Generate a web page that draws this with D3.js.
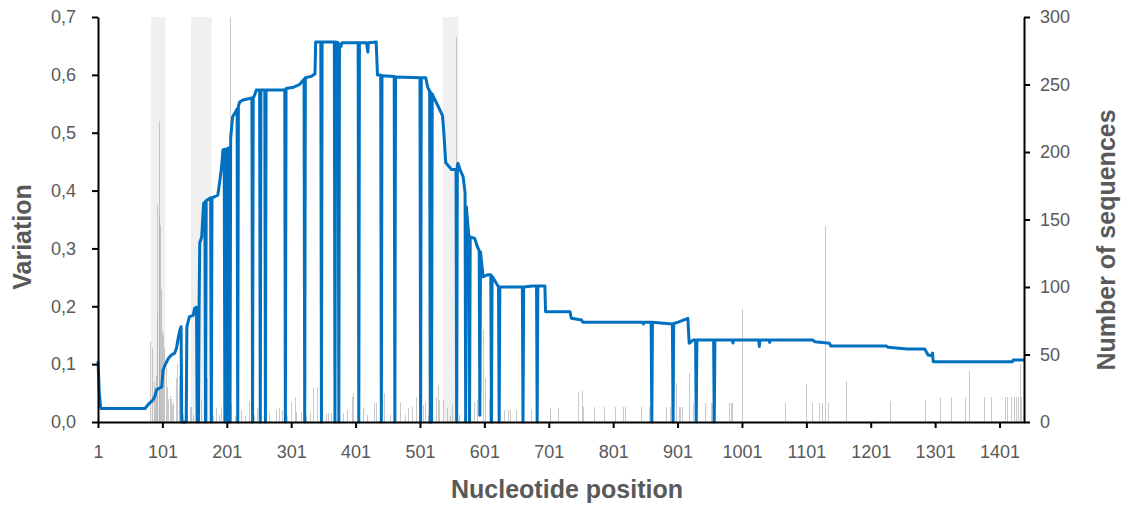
<!DOCTYPE html>
<html>
<head>
<meta charset="utf-8">
<script src="https://cdn.jsdelivr.net/npm/d3@7"></script>
<style>
  body { margin: 0; background: #fff; }
  svg { display: block; }
</style>
</head>
<body>
<div id="chart"></div>
<script>
// Axis ranges and tick labels
const positionDomain = [1, 1439];
const positionTicks = [1, 101, 201, 301, 401, 501, 601, 701, 801, 901, 1001, 1101, 1201, 1301, 1401];
const variationTicks = [0, 0.1, 0.2, 0.3, 0.4, 0.5, 0.6, 0.7];
const sequenceTicks = [0, 50, 100, 150, 200, 250, 300];

// Position ranges where variation goes beyond the axis (drawn as pale full-height columns)
const offScaleRanges = [[84, 105], [146, 177], [537, 560]];

// Variation per nucleotide position [position, variation] (positions not listed are ~0)
const variation = [
  [2, 0.46], [83, 0.14], [85, 0.128], [88, 0.07], [90, 0.06], [92, 0.08], [93, 0.18],
  [94, 0.375], [96, 0.52], [97, 0.358], [98, 0.34], [100, 0.23], [101, 0.155], [103, 0.15],
  [105, 0.128], [107, 0.093], [109, 0.06], [111, 0.04], [113, 0.045], [115, 0.04], [117, 0.03],
  [119, 0.035], [123, 0.076], [125, 0.1], [127, 0.08], [128, 0.06], [134, 0.012], [140, 0.015],
  [144, 0.026], [146, 0.026], [150, 0.012], [154, 0.047], [159, 0.038], [162, 0.038], [167, 0.047],
  [171, 0.076], [175, 0.05], [180, 0.01], [185, 0.024], [189, 0.012], [193, 0.026], [206, 1.0],
  [209, 0.03], [215, 0.01], [224, 0.021], [230, 0.01], [237, 0.037], [244, 0.012], [248, 0.024],
  [253, 0.037], [260, 0.01], [268, 0.016], [278, 0.021], [283, 0.024], [288, 0.021], [295, 0.01],
  [301, 0.035], [307, 0.044], [310, 0.018], [317, 0.018], [325, 0.01], [331, 0.018], [335, 0.058],
  [342, 0.061], [350, 0.01], [356, 0.016], [359, 0.016], [364, 0.016], [370, 0.01], [374, 0.024],
  [383, 0.016], [388, 0.021], [396, 0.044], [397, 0.05], [405, 0.01], [413, 0.024], [420, 0.012],
  [431, 0.032], [434, 0.032], [440, 0.01], [446, 0.05], [455, 0.012], [462, 0.01], [471, 0.035],
  [478, 0.012], [483, 0.024], [490, 0.026], [496, 0.044], [501, 0.047], [506, 0.03], [509, 0.035],
  [515, 0.012], [520, 0.01], [526, 0.044], [529, 0.064], [532, 0.038], [537, 0.038], [544, 0.024],
  [548, 0.012], [552, 0.03], [558, 0.666], [563, 0.012], [570, 0.015], [578, 0.05], [586, 0.035],
  [591, 0.038], [600, 0.16], [603, 0.076], [609, 0.04], [614, 0.016], [625, 0.021], [633, 0.021],
  [638, 0.021], [641, 0.021], [651, 0.021], [674, 0.021], [704, 0.024], [716, 0.024], [747, 0.052],
  [753, 0.054], [755, 0.026], [772, 0.026], [787, 0.026], [805, 0.026], [817, 0.026], [820, 0.026],
  [845, 0.026], [857, 0.026], [884, 0.026], [890, 0.026], [899, 0.067], [904, 0.026], [906, 0.026],
  [909, 0.026], [919, 0.084], [926, 0.033], [944, 0.033], [954, 0.033], [956, 0.033], [982, 0.033],
  [984, 0.033], [986, 0.033], [1002, 0.196], [1068, 0.033], [1102, 0.066], [1111, 0.033],
  [1122, 0.033], [1126, 0.033], [1130, 0.338], [1136, 0.033], [1163, 0.071], [1231, 0.036],
  [1286, 0.038], [1310, 0.044], [1326, 0.044], [1348, 0.044], [1354, 0.089], [1378, 0.044],
  [1389, 0.044], [1410, 0.044], [1414, 0.044], [1419, 0.044], [1424, 0.044], [1427, 0.044],
  [1431, 0.044], [1433, 0.1], [1435, 0.044]
];

// Number of sequences per position [position, count]
const sequences = [
  [1, 45], [3, 22], [5, 11], [6, 10], [74, 10], [79, 13], [86, 16], [89, 18.7], [92, 23.7],
  [96, 25], [100, 26], [102, 38.5], [106, 43], [110, 47], [115, 49.6], [120, 51], [123, 55],
  [125, 60.7], [128, 68], [130, 70.6], [131, 0], [138, 0], [139, 70.6], [143, 78], [149, 79],
  [151, 84.4], [154, 85], [155, 0], [156, 85], [157, 0], [158, 85], [159, 132.6], [162, 137],
  [165, 162], [167, 163], [168, 0], [169, 164], [176, 166], [177, 0], [178, 166], [187, 168],
  [190, 178], [193, 189], [195, 201.5], [197, 202], [198, 0], [199, 202], [201, 202], [202, 0],
  [203, 203], [205, 203], [206, 0], [207, 210], [210, 226], [216, 231], [217, 232], [218, 0],
  [219, 234], [221, 237], [226, 238.5], [240, 240], [241, 0], [242, 240], [244, 242], [247, 246],
  [252, 246], [253, 0], [254, 246], [260, 246], [261, 0], [262, 246], [291, 246], [292, 0],
  [293, 247], [305, 248], [314, 250], [321, 254], [322, 0], [323, 255], [332, 256], [338, 258],
  [339, 281.5], [347, 281.5], [348, 0], [349, 281.5], [368, 281.5], [369, 0], [370, 281.5],
  [374, 281], [375, 0], [376, 280], [378, 278], [380, 281], [405, 281], [406, 0], [407, 281],
  [418, 281], [420, 274], [421, 281], [433, 281.5], [435, 257], [440, 257], [441, 0], [442, 256.5],
  [461, 256], [462, 0], [463, 255.5], [501, 255], [502, 0], [503, 255], [510, 255], [513, 248],
  [516, 245], [517, 0], [518, 244], [519, 0], [520, 243], [521, 242], [528, 235], [536, 227],
  [538, 215], [541, 192], [550, 187], [557, 187], [558, 0], [559, 190], [560, 191.6], [564, 186],
  [568, 181.7], [571, 170], [572, 0], [573, 159.5], [577, 137], [578, 0], [579, 137], [586, 136],
  [590, 130], [593, 127], [594, 5], [595, 126], [599, 107.6], [606, 109], [611, 109], [612, 0],
  [613, 108], [618, 104], [623, 100], [624, 0], [625, 100], [660, 100], [661, 0], [662, 100],
  [676, 100.7], [682, 100.7], [683, 0], [684, 100.7], [695, 100.7], [696, 81.7], [734, 81.7],
  [736, 76.8], [752, 75.5], [754, 73.8], [847, 73.8], [848, 72.6], [849, 73.8], [860, 73.8],
  [861, 0], [862, 73.8], [884, 73], [893, 72.6], [894, 0], [895, 73], [902, 74], [917, 76.8],
  [919, 58.3], [925, 60.7], [929, 60.7], [930, 0], [931, 60.7], [957, 60.7], [958, 0], [959, 60.7],
  [986, 60.7], [987, 58.5], [988, 60.7], [1027, 60.7], [1028, 56], [1029, 60.7], [1043, 60.7],
  [1044, 59], [1045, 60.7], [1111, 60.7], [1114, 59.5], [1137, 58.3], [1139, 56.3], [1225, 56.3],
  [1228, 55.3], [1257, 54], [1285, 54], [1290, 49.6], [1296, 49], [1297, 51], [1298, 44.7],
  [1421, 44.7], [1422, 46], [1439, 46]
];

const width = 1125;
const height = 506;
const margin = { top: 17, right: 101, bottom: 84, left: 98 };
const textColor = "#595959";

const svg = d3.select("#chart")
  .append("svg")
  .attr("width", width)
  .attr("height", height);

// Scales
const x = d3.scaleLinear()
  .domain(positionDomain)
  .range([margin.left, width - margin.right]);

const yVar = d3.scaleLinear()
  .domain([0, 0.7])
  .range([height - margin.bottom, margin.top]);

const ySeq = d3.scaleLinear()
  .domain([0, 300])
  .range([height - margin.bottom, margin.top]);

const clampVar = v => Math.min(v, 0.7);

// Off-scale columns (pale)
svg.append("g")
  .selectAll("rect")
  .data(offScaleRanges)
  .join("rect")
  .attr("x", d => x(d[0] - 0.5))
  .attr("width", d => x(d[1] + 0.5) - x(d[0] - 0.5))
  .attr("y", yVar(0.7))
  .attr("height", yVar(0) - yVar(0.7))
  .attr("fill", "#f0f0f0");

// Variation bars
svg.append("g")
  .attr("shape-rendering", "crispEdges")
  .selectAll("rect")
  .data(variation)
  .join("rect")
  .attr("x", d => x(d[0]) - 0.5)
  .attr("width", 1)
  .attr("y", d => yVar(clampVar(d[1])))
  .attr("height", d => yVar(0) - yVar(clampVar(d[1])))
  .attr("fill", "#a6a6a6")
  .attr("fill-opacity", 0.6);

// Number of sequences line
const line = d3.line()
  .x(d => x(d[0]))
  .y(d => ySeq(d[1]));

svg.append("path")
  .datum(sequences)
  .attr("d", line)
  .attr("fill", "none")
  .attr("stroke", "#0070C0")
  .attr("stroke-width", 3)
  .attr("stroke-linejoin", "round");

// Axes
const fmtComma = d => d3.format(".1f")(d).replace(".", ",");

const xAxis = svg.append("g")
  .attr("transform", `translate(0,${height - margin.bottom})`)
  .call(d3.axisBottom(x).tickValues(positionTicks).tickFormat(d3.format("d")).tickSize(6).tickPadding(17).tickSizeOuter(0));

const leftAxis = svg.append("g")
  .attr("transform", `translate(${margin.left},0)`)
  .call(d3.axisLeft(yVar).tickValues(variationTicks).tickFormat(fmtComma).tickSize(6).tickPadding(16).tickSizeOuter(0));

const rightAxis = svg.append("g")
  .attr("transform", `translate(${width - margin.right},0)`)
  .call(d3.axisRight(ySeq).tickValues(sequenceTicks).tickFormat(d3.format("d")).tickSize(6).tickPadding(10).tickSizeOuter(0));

[xAxis, leftAxis, rightAxis].forEach(g => {
  g.select(".domain").attr("stroke", "#000").attr("stroke-width", 2);
  g.selectAll(".tick line").attr("stroke", "#000").attr("stroke-width", 2);
  g.selectAll(".tick text")
    .attr("fill", textColor)
    .style("font-family", "'Liberation Sans', Arial, sans-serif")
    .style("font-size", "18px");
});

// Axis titles
const titleStyle = sel => sel
  .attr("fill", textColor)
  .attr("text-anchor", "middle")
  .style("font-family", "'Liberation Sans', Arial, sans-serif")
  .style("font-weight", "bold")
  .style("font-size", "25px");

svg.append("text")
  .attr("x", 567)
  .attr("y", 498)
  .text("Nucleotide position")
  .call(titleStyle);

svg.append("text")
  .attr("transform", "translate(31,237) rotate(-90)")
  .text("Variation")
  .call(titleStyle);

svg.append("text")
  .attr("transform", "translate(1115,240) rotate(-90)")
  .text("Number of sequences")
  .call(titleStyle);
</script>
</body>
</html>
